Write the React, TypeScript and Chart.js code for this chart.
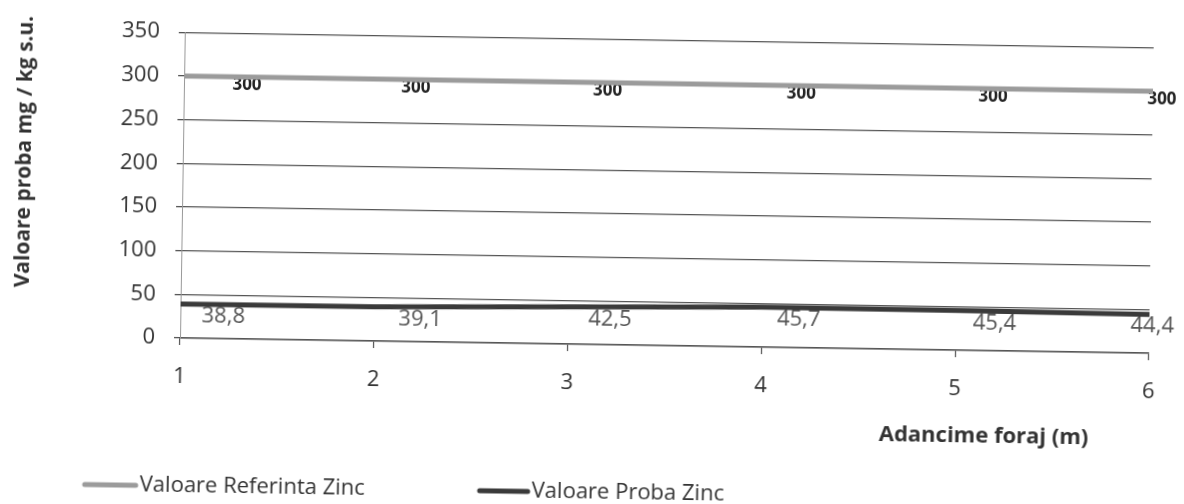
import React, { useEffect, useRef } from "react";
import { Chart, registerables } from "chart.js";

Chart.register(...registerables);

const categories = ["1", "2", "3", "4", "5", "6"];
const referintaValues = [300, 300, 300, 300, 300, 300];
const probaValues = [38.8, 39.1, 42.5, 45.7, 45.4, 44.4];
const seriesLabels = ["Valoare Referinta Zinc", "Valoare Proba Zinc"];
const yAxisTitle = "Valoare proba mg / kg s.u.";
const xAxisTitle = "Adancime foraj (m)";
const yMin = 0;
const yMax = 350;
const yStep = 50;

const FONT = "'Open Sans', Lato, sans-serif";

const fmt = (v: number) => String(v).replace(".", ",");

const labelsPlugin = {
  id: "valueLabels",
  beforeDatasetsDraw(chart: any) {
    const ctx = chart.ctx;
    const styles = [
      { dx: [63, 38, 36, 36, 34, 9], dy: 8, font: `bold 17px ${FONT}`, color: "#222" },
      { dx: [43, 46, 42, 37, 39, 3], dy: 12, font: `22px ${FONT}`, color: "#555" },
    ];
    chart.data.datasets.forEach((ds: any, di: number) => {
      const meta = chart.getDatasetMeta(di);
      const st = styles[di];
      ctx.save();
      ctx.font = st.font;
      ctx.fillStyle = st.color;
      ctx.textAlign = "center";
      ctx.textBaseline = "middle";
      meta.data.forEach((pt: any, i: number) => {
        ctx.fillText(fmt(ds.data[i]), pt.x + st.dx[i], pt.y + st.dy);
      });
      ctx.restore();
    });
  },
  afterDraw(chart: any) {
    const ctx = chart.ctx;
    ctx.save();
    ctx.fillStyle = "#333";
    ctx.font = `bold 22px ${FONT}`;
    ctx.textAlign = "center";
    ctx.textBaseline = "middle";
    ctx.fillText(xAxisTitle, 985, 424);
    ctx.save();
    ctx.translate(22, 154);
    ctx.rotate(-Math.PI / 2);
    ctx.font = `bold 21px ${FONT}`;
    ctx.fillText(yAxisTitle, 0, 0);
    ctx.restore();
    const items = [
      { x: 85, w: 55 },
      { x: 480, w: 52 },
    ];
    ctx.font = `22px ${FONT}`;
    ctx.textAlign = "left";
    chart.data.datasets.forEach((ds: any, di: number) => {
      const it = items[di];
      const y = 486;
      ctx.strokeStyle = ds.borderColor;
      ctx.lineWidth = 5;
      ctx.lineCap = "round";
      ctx.beginPath();
      ctx.moveTo(it.x + 2, y);
      ctx.lineTo(it.x + it.w - 2, y);
      ctx.stroke();
      ctx.fillStyle = "#333";
      ctx.fillText(ds.label, it.x + it.w + 2, y);
    });
    ctx.restore();
  },
};

export default function App() {
  const ref = useRef<HTMLCanvasElement | null>(null);
  useEffect(() => {
    if (!ref.current) return;
    const chart = new Chart(ref.current, {
      type: "line",
      data: {
        labels: categories,
        datasets: [
          {
            label: seriesLabels[0],
            data: referintaValues,
            borderColor: "#9b9b9b",
            borderWidth: 5,
            pointRadius: 0,
            tension: 0,
          },
          {
            label: seriesLabels[1],
            data: probaValues,
            borderColor: "#3a3a3a",
            borderWidth: 5,
            pointRadius: 0,
            tension: 0,
          },
        ],
      },
      options: {
        responsive: false,
        animation: false,
        events: [],
        layout: { padding: { left: 0, top: 22, right: 35, bottom: 106 } },
        plugins: {
          legend: { display: false },
          tooltip: { enabled: false },
          title: { display: false },
        },
        scales: {
          x: {
            type: "category",
            offset: false,
            grid: {
              offset: false,
              drawOnChartArea: false,
              drawTicks: true,
              tickLength: 7,
              color: "#555",
              lineWidth: 1.2,
            },
            border: { display: true, color: "#555", width: 1.5 },
            ticks: {
              padding: 19,
              color: "#333",
              font: { family: FONT, size: 22 },
              maxRotation: 0,
              autoSkip: false,
            },
            afterFit: (s: any) => {
              s.height = 60;
            },
          },
          y: {
            min: yMin,
            max: yMax,
            ticks: {
              stepSize: yStep,
              padding: 19,
              color: "#333",
              font: { family: FONT, size: 22 },
            },
            grid: {
              color: "#555",
              lineWidth: 1.3,
              tickLength: 6,
              drawTicks: true,
            },
            border: { display: true, color: "#999", width: 1 },
            afterFit: (s: any) => {
              s.width = 180;
            },
          },
        },
      },
      plugins: [labelsPlugin],
    });
    return () => chart.destroy();
  }, []);
  return (
    <div
      style={{
        position: "fixed",
        left: 0,
        top: 0,
        width: 1184,
        height: 504,
        background: "#fff",
        transformOrigin: "180px 338px",
        transform: "rotate(0.9deg)",
      }}
    >
      <canvas ref={ref} width={1184} height={504} style={{ display: "block" }} />
    </div>
  );
}
